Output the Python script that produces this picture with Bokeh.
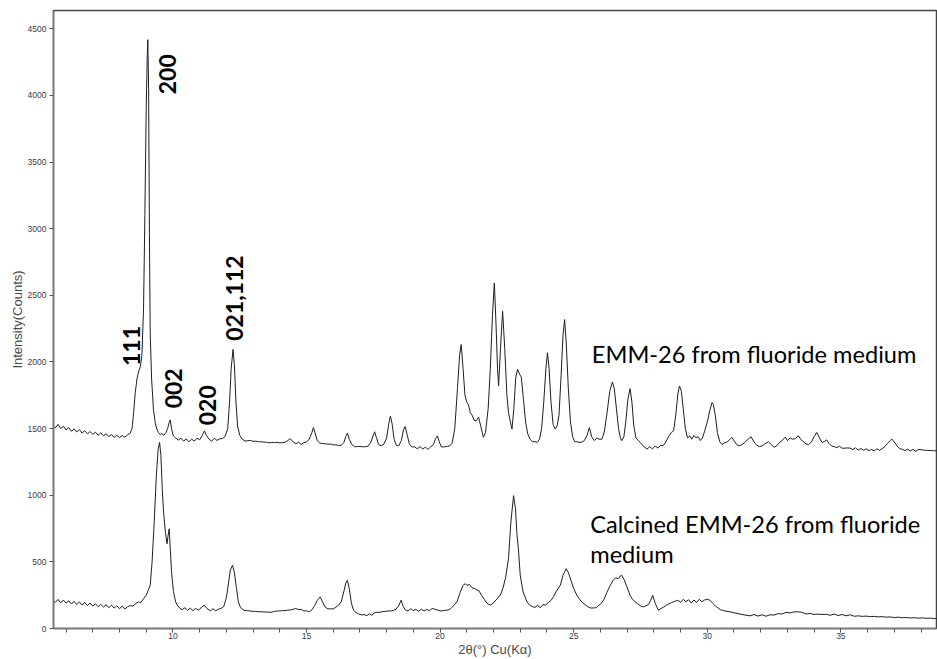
import math
from bokeh.plotting import figure
from bokeh.models import ColumnDataSource, FixedTicker, Range1d
from bokeh.core.properties import value
from bokeh.embed import file_html
from bokeh.resources import INLINE

# ---- data: as-made EMM-26 (fluoride medium), 2theta / counts ----
emm_x = [5.5, 5.6, 5.7, 5.8, 5.9, 6.0, 6.1, 6.2, 6.3, 6.4, 6.5, 6.6, 6.7, 6.8, 6.9, 7.0, 7.1, 7.2, 7.3, 7.4,
         7.5, 7.6, 7.7, 7.8, 7.9, 8.0, 8.1, 8.2, 8.3, 8.4, 8.47, 8.53, 8.59, 8.66, 8.72, 8.78, 8.84, 8.90, 8.95, 9.00,
         9.04, 9.06, 9.09, 9.12, 9.15, 9.20, 9.27, 9.34, 9.40, 9.46, 9.52, 9.58, 9.66, 9.74, 9.80, 9.86, 9.90, 9.95, 10.0, 10.1,
         10.2, 10.3, 10.4, 10.5, 10.6, 10.7, 10.8, 10.9, 11.0, 11.1, 11.18, 11.25, 11.35, 11.45, 11.55, 11.65, 11.75, 11.85, 11.95, 12.05,
         12.12, 12.18, 12.25, 12.30, 12.36, 12.42, 12.5, 12.6, 12.7, 12.8, 12.9, 13.0, 13.1, 13.2, 13.3, 13.4, 13.5, 13.6, 13.7, 13.8,
         13.9, 14.0, 14.1, 14.2, 14.3, 14.39, 14.5, 14.6, 14.7, 14.8, 14.9, 15.0, 15.1, 15.2, 15.26, 15.33, 15.4, 15.5, 15.6, 15.7,
         15.8, 15.9, 16.0, 16.1, 16.2, 16.3, 16.4, 16.47, 16.53, 16.6, 16.7, 16.8, 16.9, 17.0, 17.1, 17.2, 17.3, 17.4, 17.5, 17.55,
         17.62, 17.7, 17.8, 17.9, 18.0, 18.08, 18.14, 18.2, 18.28, 18.36, 18.45, 18.55, 18.63, 18.69, 18.76, 18.85, 18.95, 19.05, 19.15, 19.25,
         19.35, 19.45, 19.55, 19.65, 19.75, 19.83, 19.9, 19.97, 20.05, 20.15, 20.25, 20.35, 20.45, 20.55, 20.65, 20.73, 20.79, 20.86, 20.93, 21.0,
         21.06, 21.13, 21.2, 21.28, 21.36, 21.44, 21.52, 21.62, 21.7, 21.8, 21.88, 21.96, 22.03, 22.09, 22.15, 22.19, 22.26, 22.34, 22.42, 22.5,
         22.56, 22.62, 22.69, 22.76, 22.83, 22.9, 22.97, 23.04, 23.12, 23.2, 23.28, 23.37, 23.45, 23.55, 23.63, 23.72, 23.8, 23.88, 23.96, 24.02,
         24.08, 24.15, 24.23, 24.31, 24.38, 24.45, 24.53, 24.6, 24.66, 24.72, 24.8, 24.88, 24.96, 25.04, 25.12, 25.2, 25.3, 25.4, 25.5, 25.59,
         25.67, 25.77, 25.87, 25.95, 26.06, 26.15, 26.25, 26.35, 26.45, 26.52, 26.6, 26.68, 26.75, 26.80, 26.88, 26.95, 27.03, 27.11, 27.18, 27.25,
         27.33, 27.42, 27.5, 27.6, 27.74, 27.85, 27.95, 28.05, 28.15, 28.25, 28.35, 28.45, 28.55, 28.65, 28.74, 28.82, 28.9, 28.96, 29.03, 29.1,
         29.18, 29.26, 29.35, 29.42, 29.5, 29.58, 29.66, 29.74, 29.82, 29.9, 30.0, 30.1, 30.18, 30.23, 30.3, 30.38, 30.47, 30.55, 30.65, 30.75,
         30.85, 30.92, 31.0, 31.1, 31.2, 31.3, 31.4, 31.52, 31.64, 31.75, 31.85, 31.95, 32.05, 32.15, 32.29, 32.4, 32.5, 32.6, 32.7, 32.8,
         32.92, 33.0, 33.1, 33.2, 33.3, 33.41, 33.5, 33.6, 33.7, 33.8, 33.9, 34.0, 34.1, 34.2, 34.3, 34.4, 34.47, 34.55, 34.65, 34.75,
         34.85, 34.95, 35.05, 35.15, 35.25, 35.35, 35.45, 35.55, 35.65, 35.75, 35.85, 35.95, 36.05, 36.15, 36.25, 36.35, 36.45, 36.55, 36.65, 36.75,
         36.85, 36.91, 37.0, 37.1, 37.2, 37.3, 37.4, 37.5, 37.6, 37.7, 37.8, 37.9, 38.0, 38.1, 38.2, 38.3, 38.4, 38.5, 38.6]
emm_y = [1525, 1505, 1532, 1500, 1518, 1490, 1508, 1480, 1498, 1474, 1493, 1466, 1485, 1460, 1478, 1457, 1473, 1450, 1469, 1446,
         1461, 1440, 1455, 1433, 1451, 1431, 1448, 1436, 1453, 1465, 1500, 1620, 1772, 1880, 1930, 1965, 2050, 2400, 3100, 3900,
         4300, 4418, 4050, 2970, 2220, 1880, 1645, 1540, 1496, 1470, 1455, 1462, 1450, 1470, 1500, 1545, 1565, 1500, 1450, 1430,
         1414, 1428, 1406, 1423, 1401, 1421, 1406, 1428, 1416, 1450, 1483, 1450, 1420, 1406, 1428, 1411, 1423, 1425, 1440, 1500,
         1700, 1950, 2094, 1980, 1700, 1520, 1450, 1420, 1406, 1409, 1411, 1404, 1406, 1401, 1401, 1398, 1398, 1393, 1396, 1395,
         1396, 1393, 1394, 1398, 1410, 1425, 1400, 1386, 1398, 1381, 1395, 1400, 1420, 1470, 1508, 1460, 1410, 1391, 1388, 1386,
         1383, 1384, 1378, 1378, 1373, 1375, 1395, 1440, 1466, 1420, 1380, 1364, 1365, 1366, 1363, 1364, 1368, 1395, 1450, 1476,
         1430, 1380, 1370, 1385, 1430, 1540, 1593, 1540, 1420, 1375, 1370, 1410, 1490, 1516, 1460, 1385, 1362, 1363, 1348, 1365,
         1346, 1361, 1344, 1363, 1380, 1425, 1445, 1400, 1362, 1363, 1366, 1368, 1390, 1500, 1800, 2050, 2131, 1950, 1750, 1697,
         1680, 1621, 1600, 1560, 1560, 1585, 1520, 1435, 1470, 1650, 1950, 2350, 2593, 2300, 1950, 1820, 2100, 2381, 2100, 1750,
         1621, 1560, 1496, 1650, 1880, 1945, 1910, 1885, 1720, 1550, 1460, 1421, 1401, 1402, 1396, 1420, 1500, 1700, 1950, 2069,
         1950, 1700, 1530, 1496, 1520, 1600, 1900, 2200, 2318, 2150, 1800, 1550, 1440, 1401, 1402, 1396, 1398, 1410, 1450, 1508,
         1440, 1410, 1430, 1420, 1421, 1480, 1620, 1780, 1850, 1800, 1650, 1500, 1430, 1409, 1440, 1550, 1720, 1800, 1700, 1520,
         1430, 1410, 1395, 1370, 1346, 1364, 1348, 1369, 1354, 1373, 1372, 1400, 1440, 1470, 1483, 1600, 1760, 1820, 1780, 1650,
         1500, 1430, 1445, 1420, 1450, 1430, 1440, 1410, 1430, 1480, 1550, 1640, 1695, 1680, 1600, 1470, 1400, 1381, 1393, 1400,
         1420, 1434, 1410, 1380, 1370, 1380, 1395, 1420, 1438, 1400, 1375, 1365, 1370, 1385, 1401, 1380, 1360, 1370, 1395, 1410,
         1436, 1410, 1430, 1420, 1425, 1446, 1420, 1400, 1385, 1380, 1400, 1440, 1471, 1430, 1395, 1405, 1415, 1390, 1370, 1365,
         1357, 1368, 1352, 1353, 1355, 1353, 1342, 1355, 1339, 1351, 1337, 1348, 1335, 1343, 1333, 1348, 1337, 1350, 1365, 1390,
         1410, 1421, 1400, 1370, 1350, 1345, 1335, 1345, 1332, 1343, 1329, 1343, 1342, 1338, 1337, 1335, 1335, 1333, 1335]

# ---- data: calcined EMM-26 (fluoride medium) ----
cal_x = [5.5, 5.6, 5.7, 5.8, 5.9, 6.0, 6.1, 6.2, 6.3, 6.4, 6.5, 6.6, 6.7, 6.8, 6.9, 7.0, 7.1, 7.2, 7.3, 7.4,
         7.5, 7.6, 7.7, 7.8, 7.9, 8.0, 8.1, 8.2, 8.3, 8.4, 8.5, 8.6, 8.7, 8.8, 8.9, 9.0, 9.08, 9.15, 9.22, 9.3,
         9.38, 9.45, 9.50, 9.55, 9.6, 9.65, 9.72, 9.78, 9.82, 9.86, 9.9, 9.95, 10.02, 10.1, 10.18, 10.27, 10.35, 10.45, 10.55, 10.65,
         10.75, 10.85, 10.95, 11.05, 11.17, 11.27, 11.4, 11.5, 11.6, 11.7, 11.8, 11.9, 12.0, 12.08, 12.15, 12.23, 12.3, 12.38, 12.45, 12.52,
         12.6, 12.7, 12.8, 12.9, 13.0, 13.1, 13.2, 13.3, 13.4, 13.5, 13.6, 13.7, 13.8, 13.9, 14.0, 14.1, 14.2, 14.3, 14.4, 14.5,
         14.6, 14.7, 14.8, 14.9, 15.0, 15.1, 15.2, 15.3, 15.4, 15.51, 15.6, 15.7, 15.8, 15.9, 16.0, 16.1, 16.2, 16.3, 16.4, 16.47,
         16.53, 16.6, 16.68, 16.76, 16.85, 16.95, 17.05, 17.15, 17.26, 17.35, 17.45, 17.55, 17.65, 17.75, 17.85, 17.95, 18.05, 18.15, 18.25, 18.35,
         18.45, 18.54, 18.62, 18.7, 18.8, 18.9, 19.0, 19.1, 19.2, 19.3, 19.4, 19.5, 19.6, 19.7, 19.8, 19.9, 20.0, 20.1, 20.2, 20.3,
         20.4, 20.5, 20.63, 20.75, 20.85, 20.94, 21.0, 21.1, 21.2, 21.3, 21.38, 21.44, 21.55, 21.65, 21.75, 21.88, 21.98, 22.1, 22.25, 22.35,
         22.45, 22.56, 22.65, 22.75, 22.82, 22.88, 22.93, 23.0, 23.1, 23.25, 23.35, 23.45, 23.55, 23.65, 23.75, 23.85, 23.95, 24.05, 24.15, 24.25,
         24.35, 24.5, 24.6, 24.72, 24.8, 24.9, 25.0, 25.12, 25.22, 25.32, 25.42, 25.52, 25.62, 25.74, 25.84, 25.94, 26.04, 26.14, 26.24, 26.37,
         26.47, 26.57, 26.68, 26.75, 26.80, 26.88, 26.98, 27.11, 27.2, 27.3, 27.4, 27.5, 27.61, 27.7, 27.8, 27.88, 27.96, 28.05, 28.17, 28.27,
         28.37, 28.47, 28.57, 28.67, 28.8, 28.9, 29.0, 29.1, 29.2, 29.3, 29.4, 29.5, 29.6, 29.7, 29.8, 29.9, 30.0, 30.1, 30.2, 30.3,
         30.4, 30.5, 30.6, 30.7, 30.86, 31.0, 31.15, 31.3, 31.45, 31.6, 31.75, 31.9, 32.05, 32.2, 32.35, 32.5, 32.65, 32.8, 32.95, 33.1,
         33.25, 33.41, 33.55, 33.7, 33.85, 34.0, 34.15, 34.3, 34.45, 34.6, 34.75, 34.9, 35.05, 35.2, 35.35, 35.5, 35.65, 35.8, 35.95, 36.1,
         36.25, 36.4, 36.55, 36.7, 36.85, 37.0, 37.15, 37.3, 37.45, 37.6, 37.75, 37.9, 38.05, 38.2, 38.35, 38.5, 38.6]
cal_y = [212, 196, 218, 192, 213, 190, 208, 183, 203, 180, 199, 176, 195, 171, 191, 168, 186, 164, 181, 161,
         178, 156, 175, 153, 171, 148, 168, 146, 163, 172, 168, 185, 200, 195, 224, 250, 290, 324, 500, 800,
         1150, 1350, 1396, 1300, 1050, 873, 720, 636, 700, 748, 600, 420, 277, 200, 170, 150, 142, 156, 137, 153,
         134, 151, 137, 155, 175, 150, 132, 148, 132, 145, 150, 165, 230, 340, 440, 474, 420, 300, 200, 162,
         145, 134, 134, 131, 129, 128, 126, 126, 124, 124, 122, 122, 129, 131, 132, 134, 134, 138, 139, 144,
         150, 142, 143, 132, 133, 125, 140, 170, 210, 237, 200, 160, 147, 148, 147, 160, 175, 200, 280, 340,
         361, 300, 190, 137, 120, 110, 102, 104, 97, 111, 99, 118, 122, 121, 127, 128, 132, 131, 137, 145,
         170, 212, 165, 140, 132, 148, 135, 143, 129, 145, 132, 143, 134, 150, 145, 138, 132, 133, 137, 138,
         150, 170, 200, 270, 320, 337, 324, 330, 305, 300, 287, 287, 250, 220, 190, 175, 190, 215, 250, 300,
         380, 524, 800, 997, 900, 700, 598, 400, 280, 200, 175, 165, 158, 174, 156, 179, 176, 195, 210, 240,
         280, 324, 400, 449, 420, 360, 300, 249, 220, 195, 180, 165, 154, 154, 156, 174, 190, 220, 270, 324,
         360, 380, 374, 395, 399, 370, 320, 249, 220, 200, 185, 170, 162, 170, 180, 210, 249, 190, 137, 150,
         160, 175, 185, 195, 205, 212, 196, 219, 201, 216, 191, 214, 196, 219, 201, 214, 220, 212, 190, 170,
         155, 140, 135, 130, 125, 118, 112, 105, 100, 95, 105, 93, 103, 92, 103, 101, 111, 109, 121, 117,
         125, 125, 121, 109, 113, 105, 108, 105, 107, 99, 108, 97, 105, 95, 103, 92, 95, 91, 93, 89,
         91, 87, 89, 85, 87, 82, 85, 81, 83, 79, 81, 77, 80, 76, 78, 74, 75]

# ---- annotations ----
hkl_text = ["111", "200", "002", "020", "021,112"]
hkl_x = [8.46, 9.79, 10.03, 11.30, 12.29]
hkl_y = [2120, 4159, 1802, 1675, 2479]

sample_text = ["EMM-26 from fluoride medium", "Calcined EMM-26 from fluoride", "medium"]
sample_x = [25.68, 25.62, 25.62]
sample_y = [2057, 785, 561]

x_major = [10, 15, 20, 25, 30, 35]
x_minor = list(range(6, 39))
y_major = [0, 500, 1000, 1500, 2000, 2500, 3000, 3500, 4000, 4500]

p = figure(width=937, height=659, output_backend="svg", toolbar_location=None,
           x_range=Range1d(5.53, 38.58), y_range=Range1d(0, 4637),
           min_border_left=53, min_border_right=1, min_border_top=10, min_border_bottom=29)
p.background_fill_color = "white"
p.border_fill_color = "white"
p.outline_line_color = "#444444"
p.outline_line_width = 1.5
p.grid.visible = False

line_color = "#1e1e1e"
p.line(emm_x, emm_y, line_color=line_color, line_width=1)
p.line(cal_x, cal_y, line_color=line_color, line_width=1)

src_hkl = ColumnDataSource(dict(x=hkl_x, y=hkl_y, t=hkl_text))
p.text(x="x", y="y", text="t", source=src_hkl, angle=math.pi / 2,
       text_font=value("Lato"), text_font_style="bold", text_font_size="23px",
       text_align="center", text_baseline="middle", text_color="black")

src_s = ColumnDataSource(dict(x=sample_x, y=sample_y, t=sample_text))
p.text(x="x", y="y", text="t", source=src_s,
       text_font=value("Lato"), text_font_size="23.6px",
       text_align="left", text_baseline="alphabetic", text_color="black")

for ax in (p.xaxis[0], p.yaxis[0]):
    ax.axis_line_color = "#7a7a7a"
    ax.axis_line_width = 1.5
    ax.major_tick_line_color = "#555555"
    ax.minor_tick_line_color = "#555555"
    ax.major_tick_in = 0
    ax.major_tick_out = 4
    ax.minor_tick_in = 0
    ax.minor_tick_out = 4
    ax.major_label_text_font = "Liberation Sans"
    ax.major_label_text_font_size = "8.5px"
    ax.major_label_text_color = "#3a3a4a"
    ax.axis_label_text_font = "Liberation Sans"
    ax.axis_label_text_font_size = "13px"
    ax.axis_label_text_font_style = "normal"
    ax.axis_label_text_color = "#4a4a4a"

p.xaxis.ticker = FixedTicker(ticks=x_major, minor_ticks=x_minor)
p.yaxis.ticker = FixedTicker(ticks=y_major, minor_ticks=[])
p.xaxis.axis_label = "2θ(°) Cu(Kα)"
p.yaxis.axis_label = "Intensity(Counts)"
p.xaxis.major_label_standoff = 0
p.xaxis.axis_label_standoff = 0
p.yaxis.major_label_standoff = 3
p.yaxis.axis_label_standoff = 0

open("out.html", "w").write(file_html(p, INLINE))
